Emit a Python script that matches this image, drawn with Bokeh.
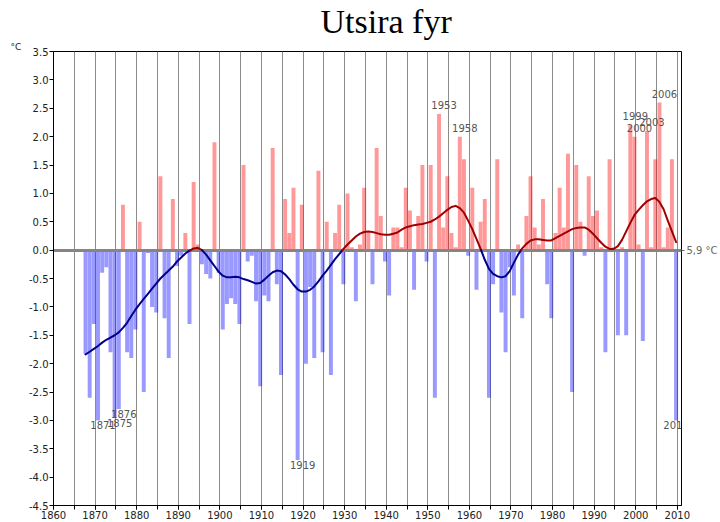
from bokeh.plotting import figure
from bokeh.models import (FixedTicker, PrintfTickFormatter, ColumnDataSource,
                          Title, LinearAxis)
from bokeh.embed import file_html
from bokeh.resources import INLINE
from bokeh.core.properties import value

# ---------------- data ----------------
years = list(range(1868, 2011))

anomaly = [
    -1.83, -2.6,
    -1.3, -3.0, -0.4, -0.3, -1.8, -2.95, -2.8, 0.8, -1.8, -1.9,
    -1.4, 0.5, -2.5, -0.05, -1.0, -1.1, 1.3, -1.2, -1.9, 0.9,
    -0.28, -0.1, 0.3, -1.3, 1.2, 0.1, -0.25, -0.42, -0.5, 1.9,
    -0.4, -1.4, -0.95, -0.85, -0.95, -1.3, 1.5, -0.2, -0.1, -0.9,
    -2.4, -0.8, -0.9, 1.8, -0.6, -2.2, 0.9, 0.3, 1.1, -3.7,
    0.8, -2.0, -0.65, -1.9, 1.4, -1.8, 0.5, -2.2, 0.3, 0.8,
    -0.6, 1.0, 0.05, -0.9, 0.1, 1.1, 0.3, -0.6, 1.8, 0.6,
    -0.2, -0.8, 0.4, 0.4, 0.05, 1.1, 0.7, -0.7, 0.6, 1.5,
    -0.2, 1.5, -2.6, 2.4, 0.4, 1.3, 0.3, 0.05, 2.0, 1.6,
    -0.1, 1.1, -0.7, 0.5, 0.9, -2.6, -0.6, 1.6, -1.1, -1.8,
    -0.3, -0.8, 0.1, -1.2, 0.6, 1.3, 0.4, 0.1, 0.9, -0.6,
    -1.2, 0.3, 1.1, 0.4, 1.7, -2.5, 1.5, 0.5, -0.1, 1.3,
    0.6, 0.7, 0.05, -1.8, 1.6, 0.05, -1.5, 0.05, -1.5, 2.2,
    2.0, 0.1, -1.6, 2.1, 0.05, 1.6, 2.6, 0.05, 0.4, 1.6,
    -3.0,
]

smooth = [
    -1.84, -1.79,
    -1.74, -1.69, -1.63, -1.58, -1.54, -1.50, -1.45, -1.37, -1.28, -1.16,
    -1.05, -0.95, -0.86, -0.77, -0.68, -0.59, -0.50, -0.43, -0.36, -0.29,
    -0.20, -0.13, -0.06, -0.01, 0.03, 0.04, 0.00, -0.08, -0.18, -0.28,
    -0.38, -0.45, -0.48, -0.48, -0.47, -0.48, -0.51, -0.53, -0.56, -0.59,
    -0.58, -0.52, -0.45, -0.39, -0.36, -0.37, -0.43, -0.51, -0.61, -0.69,
    -0.73, -0.73, -0.70, -0.64, -0.55, -0.45, -0.36, -0.26, -0.16, -0.07,
    0.02, 0.10, 0.17, 0.24, 0.29, 0.32, 0.33, 0.32, 0.30, 0.28,
    0.27, 0.27, 0.29, 0.31, 0.36, 0.40, 0.42, 0.44, 0.45, 0.46,
    0.48, 0.50, 0.54, 0.59, 0.65, 0.71, 0.76, 0.78, 0.74, 0.66,
    0.52, 0.37, 0.20, 0.02, -0.17, -0.33, -0.42, -0.46, -0.48, -0.46,
    -0.37, -0.22, -0.08, 0.03, 0.11, 0.17, 0.19, 0.19, 0.18, 0.17,
    0.17, 0.21, 0.25, 0.29, 0.33, 0.37, 0.39, 0.40, 0.40, 0.36,
    0.29, 0.21, 0.13, 0.06, 0.02, 0.02, 0.07, 0.18, 0.33, 0.48,
    0.62, 0.71, 0.79, 0.86, 0.90, 0.92, 0.85, 0.72, 0.52, 0.33,
    0.14,
]

label_years = [1871, 1875, 1876, 1919, 1953, 1958, 1999, 2000, 2003, 2006, 2010]
x_ticks = [1860, 1870, 1880, 1890, 1900, 1910, 1920, 1930, 1940, 1950,
           1960, 1970, 1980, 1990, 2000, 2010]
x_grid = list(range(1860, 2011, 5))
y_ticks = [-4.5, -4.0, -3.5, -3.0, -2.5, -2.0, -1.5, -1.0, -0.5, 0.0,
           0.5, 1.0, 1.5, 2.0, 2.5, 3.0, 3.5]
title_text = "Utsira fyr"
unit_text = "°C"
normal_text = "5,9 °C"
baseline = 0.0

# ---------------- styling constants ----------------
SHIFT = -0.3          # bar placement within the year slot
RED_BAR = "#ff0000"
BLUE_BAR = "#0000ff"
RED_LINE = "#a00000"
BLUE_LINE = "#00008b"
FONT = "DejaVu Sans"
LABEL_DX = 5          # pixel nudge of the year labels
EDGE_DX = 0           # nudge for the label at the right edge

x_pos = [y + SHIFT for y in years]
bar_colors = [RED_BAR if v >= 0 else BLUE_BAR for v in anomaly]
bars = ColumnDataSource(dict(x=x_pos, top=anomaly, color=bar_colors))

# smoothed curve split into runs by sign
runs_x, runs_y, runs_c = [], [], []
cur_x, cur_y = [x_pos[0]], [smooth[0]]
cur_sign = smooth[0] >= 0
for i in range(1, len(years)):
    xa, ya = x_pos[i - 1], smooth[i - 1]
    xb, yb = x_pos[i], smooth[i]
    sign = yb >= 0
    if sign != cur_sign:
        t = ya / (ya - yb)
        xm = xa + t * (xb - xa)
        cur_x.append(xm); cur_y.append(baseline)
        runs_x.append(cur_x); runs_y.append(cur_y)
        runs_c.append(RED_LINE if cur_sign else BLUE_LINE)
        cur_x, cur_y = [xm], [baseline]
        cur_sign = sign
    cur_x.append(xb); cur_y.append(yb)
runs_x.append(cur_x); runs_y.append(cur_y)
runs_c.append(RED_LINE if cur_sign else BLUE_LINE)

lookup = dict(zip(years, anomaly))
pos_lab = dict(x=[], y=[], t=[], dx=[])
neg_lab = dict(x=[], y=[], t=[], dx=[])
for yr in label_years:
    v = lookup[yr]
    d = pos_lab if v >= 0 else neg_lab
    d["x"].append(yr + SHIFT)
    d["y"].append(v)
    d["t"].append(str(yr))
    d["dx"].append(EDGE_DX if yr == years[-1] else LABEL_DX)

# ---------------- figure ----------------
p = figure(width=720, height=522, x_range=(1860, 2011), y_range=(-4.5, 3.5),
           output_backend="svg", toolbar_location=None,
           min_border_left=53, min_border_right=37,
           min_border_top=51, min_border_bottom=17)
p.background_fill_color = "white"
p.border_fill_color = "white"
p.outline_line_color = "black"
p.outline_line_width = 1

p.ygrid.visible = False
p.xgrid.ticker = FixedTicker(ticks=x_grid)
p.xgrid.grid_line_color = "#8c8c8c"
p.xgrid.grid_line_width = 1

p.xaxis.ticker = FixedTicker(ticks=x_ticks, minor_ticks=x_grid)
p.yaxis.ticker = FixedTicker(ticks=y_ticks)
p.yaxis.formatter = PrintfTickFormatter(format="%.1f")
for ax in (p.xaxis, p.yaxis):
    ax.axis_line_color = "black"
    ax.major_tick_line_color = "black"
    ax.minor_tick_line_color = "black"
    ax.major_tick_in = 0
    ax.major_tick_out = 4
    ax.minor_tick_in = 0
    ax.major_label_text_font = FONT
    ax.major_label_text_font_size = "10px"
    ax.major_label_text_color = "#222222"
    ax.major_label_standoff = 1
p.xaxis.minor_tick_out = 4
p.yaxis.minor_tick_out = 0

# right-hand axis carrying the normal value label at the zero line
right_ax = LinearAxis(ticker=FixedTicker(ticks=[baseline]),
                      major_label_overrides={baseline: normal_text})
right_ax.axis_line_color = None
right_ax.major_tick_line_color = "#666666"
right_ax.major_tick_in = 0
right_ax.major_tick_out = 3
right_ax.minor_tick_out = 0
right_ax.minor_tick_in = 0
right_ax.major_label_standoff = 2
right_ax.major_label_text_font = FONT
right_ax.major_label_text_font_size = "10px"
right_ax.major_label_text_color = "#666666"
p.add_layout(right_ax, "right")

p.vbar(x="x", top="top", bottom=baseline, width=0.95, source=bars,
       fill_color="color", fill_alpha=0.4, line_color=None)

p.hspan(y=[baseline], line_color="#858585", line_width=3)

p.multi_line(xs=runs_x, ys=runs_y, line_color=runs_c, line_width=2,
             line_join="round", line_cap="round")

p.text(x="x", y="y", text="t", source=ColumnDataSource(pos_lab),
       x_offset="dx", y_offset=-5, text_align="center", text_baseline="bottom",
       text_font=value(FONT), text_font_size="10px", text_color="#555555")
p.text(x="x", y="y", text="t", source=ColumnDataSource(neg_lab),
       x_offset="dx", y_offset=1, text_align="center", text_baseline="top",
       text_font=value(FONT), text_font_size="10px", text_color="#555555")

# titles
main_title = Title(text=title_text, align="left", offset=267, standoff=0,
                   text_font="Liberation Serif", text_font_size="34px",
                   text_font_style="normal", text_color="black")
unit_title = Title(text=unit_text, align="left", offset=-43, standoff=0,
                   text_font=FONT, text_font_size="9px",
                   text_font_style="normal", text_color="#222222")
p.title = main_title
p.add_layout(unit_title, "above")

open("out.html", "w").write(file_html(p, INLINE))
